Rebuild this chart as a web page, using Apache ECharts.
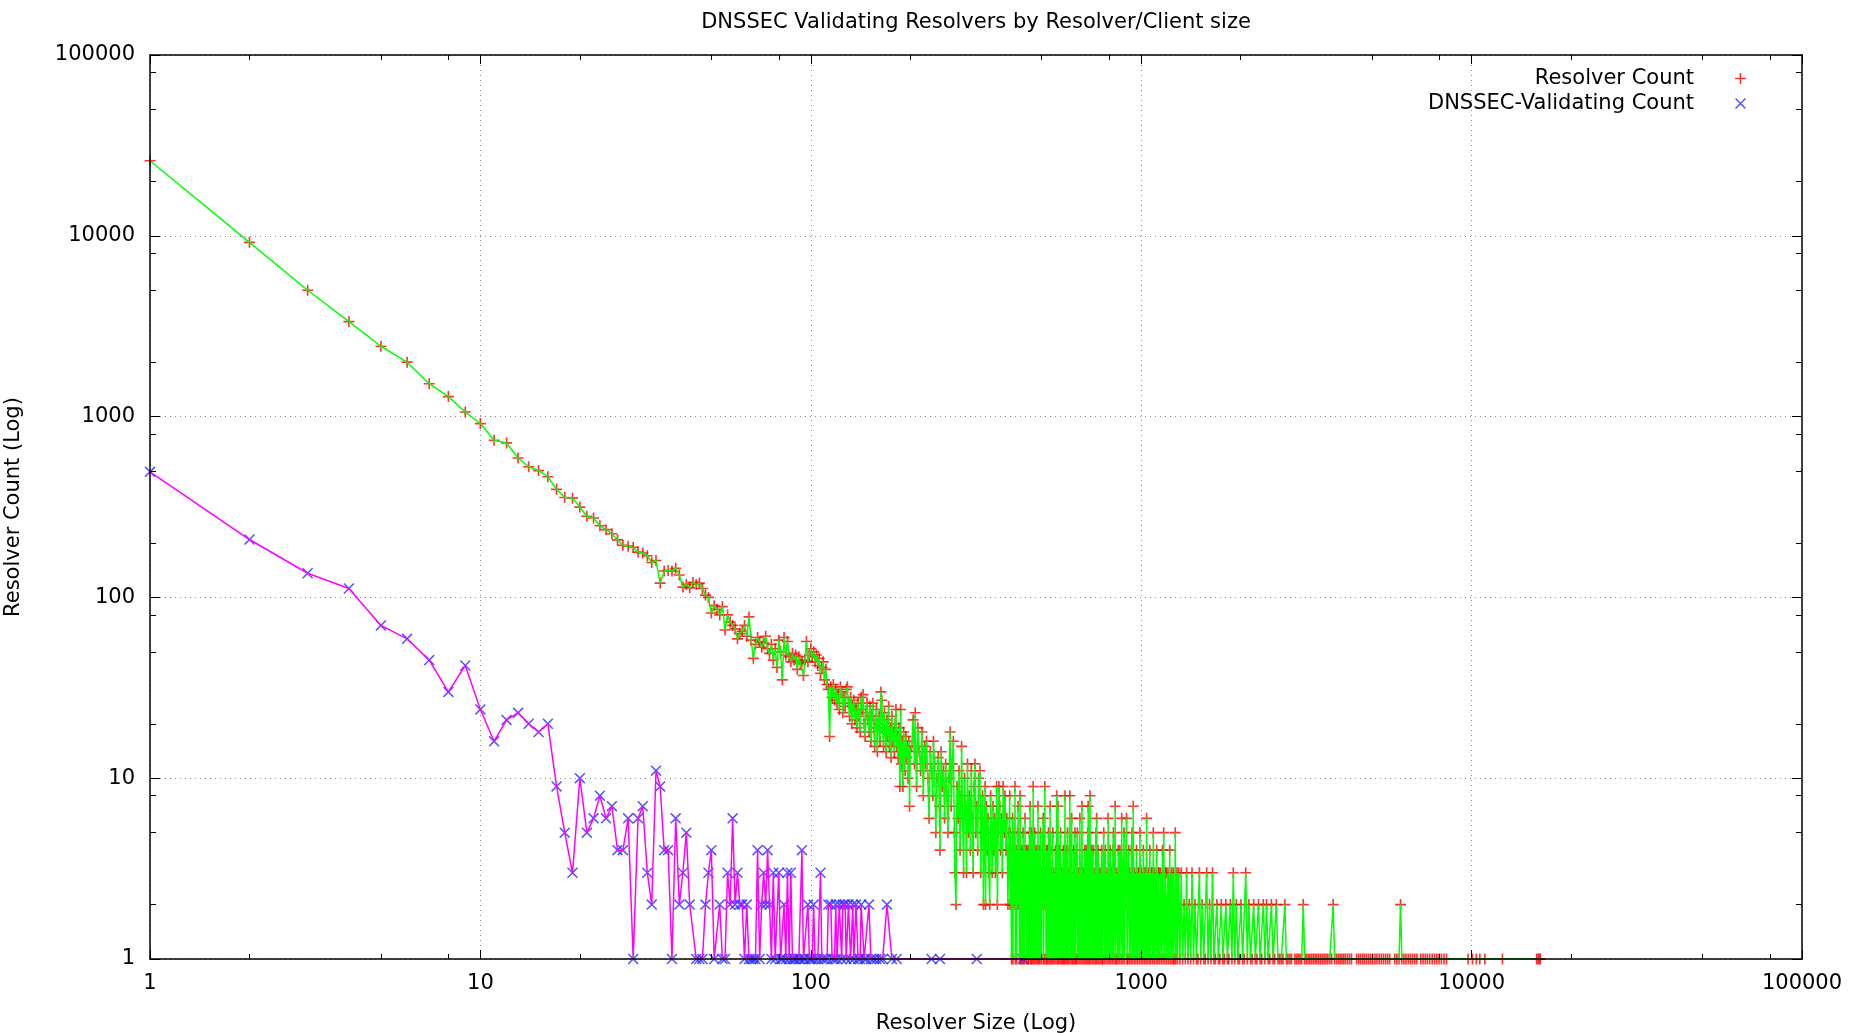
<!DOCTYPE html>
<html>
<head>
<meta charset="utf-8">
<title>DNSSEC Validating Resolvers by Resolver/Client size</title>
<script src="https://cdn.jsdelivr.net/npm/echarts@6/dist/echarts.min.js"></script>
<style>
  html, body { margin: 0; padding: 0; background: #fff; }
  #main { width: 1864px; height: 1033px; }
</style>
</head>
<body>
<div id="main"></div>
<script>
// [resolver size, number of resolvers]
var resolverCount1to30 = [[1,26000],[2,9200],[3,5000],[4,3350],[5,2450],[6,2000],[7,1520],[8,1290],[9,1060],[10,915],[11,740],[12,715],[13,590],[14,528],[15,503],[16,465],[17,396],[18,357],[19,354],[20,316],[21,281],[22,275],[23,249],[24,237],[25,225],[26,208],[27,194],[28,192],[29,189],[30,178]];
var resolverCount31to100 = [[31,176],[32,170],[33,156],[34,160],[35,120],[36,140],[37,141],[38,140],[39,145],[40,133],[41,114],[42,118],[43,113],[44,121],[45,118],[46,120],[47,112],[48,103],[49,100],[50,82],[51,90],[52,86],[53,80],[54,89],[55,66],[56,80],[57,73],[58,70],[59,67],[60,59],[61,63],[62,65],[63,70],[64,61],[65,78],[66,58],[67,46],[68,55],[69,60],[70,57],[71,53],[72,56],[73,61],[74,52],[75,49],[76,55],[77,45],[78,52],[79,41],[80,58],[81,50],[82,35],[83,60],[84,48],[85,57],[86,47],[87,44],[88,49],[89,45],[90,48],[91,40],[92,47],[93,43],[94,44],[95,37],[96,45],[97,57],[98,44],[99,48],[100,52]];
var resolverCount101to200 = [[101,47],[102,50],[103,44],[104,48],[105,42],[106,46],[107,38],[108,41],[109,44],[110,35],[111,40],[112,33],[113,31],[114,17],[115,32],[116,28],[117,33],[118,27],[119,31],[120,26],[121,29],[122,24],[123,32],[124,30],[125,23],[126,28],[127,25],[128,31],[129,32],[130,26],[131,22],[132,28],[133,20],[134,25],[135,27],[136,21],[137,24],[138,19],[139,26],[140,22],[141,18],[142,28],[143,24],[144,29],[145,20],[146,17],[147,23],[148,26],[149,21],[150,18],[151,25],[152,16],[153,22],[154,26],[155,19],[156,15],[157,21],[158,24],[159,14],[160,20],[161,22],[162,16],[163,30],[164,27],[165,19],[166,15],[167,23],[168,18],[169,14],[170,21],[171,17],[172,25],[173,15],[174,19],[175,13],[176,22],[177,16],[178,18],[179,14],[180,20],[181,24],[182,15],[183,17],[184,13],[185,19],[186,9],[187,24],[188,12],[189,16],[190,9],[191,18],[192,14],[193,11],[194,17],[195,13],[196,15],[197,10],[198,16],[199,7],[200,14]];
var resolverCount201to400 = [[202,15],[204,21],[206,12],[207,23],[209,9],[211,19],[213,14],[215,11],[217,18],[219,8],[221,15],[223,12],[224,16],[226,10],[228,6],[230,14],[232,11],[234,8],[235,16],[237,12],[239,5],[241,10],[243,13],[245,7],[246,4],[248,14],[250,9],[252,11],[254,6],[256,12],[258,8],[260,5],[262,10],[264,18],[266,7],[268,12],[270,16],[272,5],[273,3],[275,2],[277,9],[279,6],[281,11],[283,4],[285,8],[286,15],[288,6],[290,3],[292,10],[294,7],[296,3],[298,12],[300,5],[302,8],[304,4],[306,11],[308,6],[310,3],[312,9],[314,12],[316,5],[318,7],[320,4],[322,10],[325,11],[327,3],[329,6],[331,8],[333,2],[335,5],[337,9],[338,2],[340,7],[342,4],[344,6],[346,3],[348,2],[350,8],[352,5],[354,3],[356,7],[358,4],[360,6],[362,3],[365,9],[367,2],[369,5],[371,9],[373,7],[375,4],[377,6],[380,3],[382,9],[385,5],[387,8],[390,4],[392,6],[395,2],[398,5],[400,8]];
var resolverCount401to1300 = [[401,2],[402,5],[403,4],[404,2],[405,1],[406,3],[407,2],[408,6],[409,1],[410,4],[411,3],[412,2],[413,5],[414,3],[415,9],[416,1],[417,3],[418,2],[419,4],[420,1],[421,2],[422,5],[423,3],[424,7],[425,2],[426,3],[427,4],[428,1],[429,3],[430,8],[431,2],[432,1],[433,4],[434,3],[435,1],[436,2],[437,4],[438,1],[439,5],[440,2],[441,1],[442,3],[443,4],[444,1],[445,6],[446,2],[447,3],[448,2],[449,4],[450,1],[451,3],[452,2],[453,4],[454,1],[455,2],[456,3],[457,1],[458,4],[459,5],[460,2],[461,7],[462,1],[463,3],[464,2],[465,1],[466,5],[467,4],[468,1],[469,3],[470,2],[471,9],[472,3],[473,1],[475,4],[476,5],[477,1],[478,3],[479,2],[480,4],[482,1],[483,3],[484,2],[485,4],[486,1],[487,7],[488,2],[490,1],[491,4],[493,3],[494,1],[496,5],[497,2],[499,1],[500,3],[502,2],[503,4],[505,6],[506,1],[508,1],[509,3],[511,9],[512,2],[514,3],[515,1],[517,1],[518,4],[520,4],[521,1],[523,2],[524,5],[526,1],[528,3],[530,7],[531,1],[533,3],[534,2],[536,1],[538,4],[540,5],[541,1],[543,2],[544,3],[546,1],[548,2],[550,4],[552,1],[555,8],[556,2],[558,1],[559,3],[560,7],[561,1],[563,2],[565,4],[567,1],[568,3],[570,5],[572,1],[574,3],[575,2],[577,1],[579,3],[581,4],[582,1],[584,1],[586,2],[588,8],[589,1],[591,2],[593,4],[595,1],[596,3],[598,5],[600,1],[602,3],[603,2],[605,1],[606,4],[608,8],[610,2],[612,1],[614,3],[616,6],[618,1],[620,2],[622,1],[624,4],[626,2],[628,1],[630,5],[632,3],[634,1],[636,1],[638,4],[641,5],[643,1],[645,2],[647,3],[650,1],[652,6],[654,2],[657,1],[660,3],[662,7],[664,1],[666,3],[668,2],[671,1],[673,3],[675,4],[677,1],[680,2],[682,4],[684,1],[686,3],[689,5],[690,1],[691,7],[693,2],[696,1],[698,3],[700,8],[702,1],[705,2],[707,4],[710,1],[712,3],[715,4],[717,1],[720,3],[722,2],[725,1],[727,4],[730,5],[731,1],[733,6],[735,2],[738,1],[740,4],[743,3],[745,1],[748,2],[751,3],[754,1],[756,2],[759,4],[762,1],[765,1],[767,3],[770,5],[773,1],[776,2],[779,4],[782,1],[785,2],[788,3],[791,1],[794,6],[797,2],[800,1],[803,3],[806,4],[809,1],[812,2],[815,3],[818,1],[821,4],[824,5],[827,1],[830,3],[832,2],[834,7],[837,1],[840,1],[843,3],[846,2],[849,1],[852,4],[855,2],[858,1],[862,4],[865,3],[869,1],[873,6],[876,2],[880,1],[883,3],[887,5],[890,1],[894,2],[898,4],[903,6],[906,1],[910,1],[913,3],[917,4],[920,1],[924,3],[927,2],[931,1],[934,4],[938,5],[942,1],[946,7],[949,2],[953,1],[956,3],[960,2],[964,1],[968,4],[971,2],[975,1],[979,3],[983,3],[987,1],[991,5],[995,2],[999,1],[1003,3],[1007,2],[1011,1],[1015,4],[1019,2],[1023,1],[1027,3],[1031,3],[1034,1],[1038,6],[1042,2],[1046,1],[1050,3],[1054,2],[1058,1],[1062,4],[1066,2],[1070,1],[1075,3],[1079,3],[1084,1],[1088,5],[1092,2],[1096,1],[1100,3],[1105,2],[1110,1],[1114,4],[1118,2],[1123,1],[1127,3],[1132,3],[1136,1],[1141,2],[1145,3],[1150,1],[1155,2],[1160,4],[1165,1],[1170,5],[1175,2],[1180,1],[1185,3],[1190,3],[1195,1],[1200,2],[1205,3],[1210,1],[1215,2],[1220,4],[1225,1],[1230,2],[1235,3],[1240,1],[1245,2],[1250,3],[1255,1],[1260,1],[1264,2],[1268,5],[1273,1],[1278,2],[1283,3],[1288,1],[1293,2],[1298,3]];
var resolverCount1301to2750 = [[1310,1],[1322,3],[1335,1],[1348,2],[1360,1],[1372,3],[1385,1],[1398,2],[1412,1],[1425,3],[1440,1],[1455,2],[1470,1],[1485,1],[1500,3],[1515,1],[1530,2],[1546,1],[1562,1],[1578,3],[1594,1],[1610,2],[1626,1],[1643,3],[1660,1],[1677,1],[1694,2],[1712,1],[1730,1],[1748,2],[1766,1],[1785,1],[1804,2],[1823,1],[1842,1],[1862,2],[1882,1],[1900,3],[1920,1],[1941,2],[1962,1],[1983,1],[2005,2],[2027,1],[2050,1],[2072,3],[2095,1],[2118,2],[2142,1],[2166,1],[2190,2],[2215,1],[2240,1],[2265,2],[2290,1],[2316,1],[2342,2],[2368,1],[2395,2],[2422,1],[2450,1],[2478,2],[2506,1],[2535,1],[2564,2],[2594,1],[2624,1],[2655,1],[2686,1],[2722,2],[2750,1]];
var resolverCountTail = [[2780,1],[2815,1],[2850,1],[2920,1],[2955,1],[2990,1],[3025,1],[3060,1],[3093,2],[3125,1],[3160,1],[3200,1],[3240,1],[3280,1],[3320,1],[3360,1],[3400,1],[3445,1],[3490,1],[3535,1],[3580,1],[3625,1],[3670,1],[3720,1],[3770,1],[3811,2],[3850,1],[3900,1],[3950,1],[4000,1],[4050,1],[4100,1],[4150,1],[4210,1],[4270,1],[4330,1],[4490,1],[4550,1],[4610,1],[4680,1],[4740,1],[4810,1],[4880,1],[4950,1],[5020,1],[5100,1],[5170,1],[5250,1],[5330,1],[5410,1],[5490,1],[5570,1],[5650,1],[5850,1],[5940,1],[6030,1],[6093,2],[6150,1],[6240,1],[6330,1],[6430,1],[6530,1],[6630,1],[6730,1],[6830,1],[7020,1],[7130,1],[7240,1],[7350,1],[7470,1],[7600,1],[7730,1],[7850,1],[7970,1],[8100,1],[8250,1],[8400,1],[9760,1],[10060,1],[10340,1],[10590,1],[10970,1],[12400,1],[15740,1],[15900,1],[16050,1],[16150,1]];

// [resolver size, number of DNSSEC-validating resolvers]
var validatingCount1to50 = [[1,495],[2,209],[3,136],[4,112],[5,70],[6,59],[7,45],[8,30],[9,42],[10,24],[11,16],[12,21],[13,23],[14,20],[15,18],[16,20],[17,9],[18,5],[19,3],[20,10],[21,5],[22,6],[23,8],[24,6],[25,7],[26,4],[27,4],[28,6],[29,1],[30,6],[31,7],[32,3],[33,2],[34,11],[35,9],[36,4],[37,4],[38,1],[39,6],[40,2],[41,3],[42,5],[43,2],[45,1],[46,1],[47,1],[48,2],[49,3],[50,4]];
var validatingCount51up = [[51,1],[53,2],[54,1],[55,1],[56,3],[57,2],[58,6],[59,2],[60,3],[61,2],[62,2],[63,1],[64,2],[65,1],[66,1],[67,1],[68,1],[69,4],[70,1],[71,2],[72,3],[73,2],[74,4],[75,2],[76,1],[77,3],[78,1],[80,3],[81,1],[82,1],[83,2],[84,1],[85,3],[86,1],[87,3],[88,1],[89,1],[90,1],[92,1],[93,1],[94,4],[95,1],[96,1],[98,2],[99,1],[100,1],[101,1],[102,2],[103,1],[105,1],[107,3],[108,1],[110,1],[112,1],[113,2],[115,2],[116,1],[118,1],[119,2],[120,1],[122,2],[124,1],[125,2],[127,2],[128,1],[130,2],[132,1],[134,2],[135,1],[137,2],[139,1],[141,1],[142,2],[145,1],[147,1],[150,2],[152,1],[155,1],[158,1],[162,1],[165,1],[170,2],[176,1],[182,1],[232,1],[246,1],[318,1],[439,1]];

var minorTickValues = [2,5,8,20,50,80,200,500,800,2000,5000,8000,20000,50000,80000];

var resolverCount = [].concat(resolverCount1to30, resolverCount31to100, resolverCount101to200,
  resolverCount201to400, resolverCount401to1300, resolverCount1301to2750, resolverCountTail);
var validatingCount = [].concat(validatingCount1to50, validatingCount51up);

var FONT = 'DejaVu Sans';
var plusSymbol = 'path://M0,4.25H10V5.75H0Z M4.25,0H5.75V10H4.25Z';
var crossSymbol = 'path://M0,1L1,0L10,9L9,10Z M9,0L10,1L1,10L0,9Z';

function logAxis(position, extra) {
  var ax = {
    type: 'log', logBase: 10, min: 1, max: 100000, position: position,
    axisLine: { show: false, onZero: false },
    axisTick: { show: false },
    axisLabel: { show: false },
    splitLine: { show: false }
  };
  for (var k in extra) ax[k] = extra[k];
  return ax;
}
// frame line + major ticks
function frameAxis(position, len) {
  return logAxis(position, {
    z: 10,
    axisLine: { show: true, onZero: false, lineStyle: { color: '#000', width: 1.5 } },
    axisTick: { show: true, inside: true, length: len, lineStyle: { color: '#000', width: 1 } }
  });
}
// minor ticks at 2, 5, 8 of every decade
function minorAxis(position, len) {
  return logAxis(position, {
    z: 10,
    axisTick: { show: true, inside: true, length: len, customValues: minorTickValues,
      lineStyle: { color: '#000', width: 1 } }
  });
}

var gridLine = { show: true, lineStyle: { color: '#8c8c8c', width: 1, type: [1, 4] } };
var labelFmt = function (v) { return String(Math.round(v)); };

var chart = echarts.init(document.getElementById('main'), null, { renderer: 'canvas' });
chart.setOption({
  animation: false,
  backgroundColor: '#fff',
  title: {
    text: 'DNSSEC Validating Resolvers by Resolver/Client size',
    left: 971, top: 7, textAlign: 'center',
    textStyle: { fontFamily: FONT, fontSize: 21, fontWeight: 'normal', color: '#000' }
  },
  legend: {
    data: ['Resolver Count', 'DNSSEC-Validating Count'],
    orient: 'vertical', align: 'right', right: 113, top: 63,
    itemWidth: 11, itemHeight: 11, itemGap: 4,
    selectedMode: false,
    textStyle: { fontFamily: FONT, fontSize: 21, color: '#000', padding: [0, 36, 0, 0] }
  },
  grid: { left: 150, right: 62, top: 55, bottom: 74, containLabel: false, outerBoundsMode: 'none' },
  xAxis: [
    logAxis('bottom', {
      name: 'Resolver Size (Log)', nameLocation: 'middle', nameGap: 54,
      nameTextStyle: { fontFamily: FONT, fontSize: 21, color: '#000' },
      axisLabel: { show: true, margin: 14, fontFamily: FONT, fontSize: 21, color: '#000',
        showMinLabel: true, showMaxLabel: true, formatter: labelFmt },
      splitLine: gridLine
    }),
    frameAxis('bottom', 9), minorAxis('bottom', 5),
    frameAxis('top', 9), minorAxis('top', 5)
  ],
  yAxis: [
    logAxis('left', {
      name: 'Resolver Count (Log)', nameLocation: 'middle', nameGap: 126,
      nameTextStyle: { fontFamily: FONT, fontSize: 21, color: '#000' },
      axisLabel: { show: true, margin: 15, fontFamily: FONT, fontSize: 21, color: '#000',
        showMinLabel: true, showMaxLabel: true, formatter: labelFmt },
      splitLine: gridLine
    }),
    frameAxis('left', 10), minorAxis('left', 6),
    frameAxis('right', 10), minorAxis('right', 6)
  ],
  series: [
    {
      name: 'Resolver Count', type: 'scatter', data: resolverCount,
      symbol: plusSymbol, symbolSize: 11, symbolKeepAspect: true, clip: false, silent: true,
      itemStyle: { color: '#ff0000' }
    },
    {
      name: 'resolver line', type: 'line', data: resolverCount,
      symbol: 'none', showSymbol: false, clip: false, silent: true,
      lineStyle: { color: '#00ff00', width: 1.5 }, itemStyle: { color: '#00ff00' }
    },
    {
      name: 'DNSSEC-Validating Count', type: 'scatter', data: validatingCount,
      symbol: crossSymbol, symbolSize: 11, symbolKeepAspect: true, clip: false, silent: true,
      itemStyle: { color: '#2b2bff' }
    },
    {
      name: 'validating line', type: 'line', data: validatingCount,
      symbol: 'none', showSymbol: false, clip: false, silent: true,
      lineStyle: { color: '#ff00ff', width: 1.5 }, itemStyle: { color: '#ff00ff' }
    }
  ]
});
</script>
</body>
</html>
